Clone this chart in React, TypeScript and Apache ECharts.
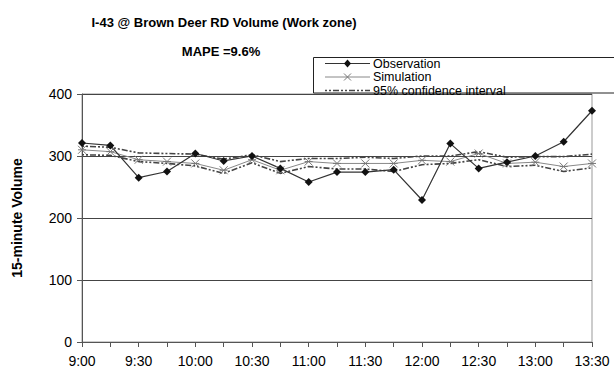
import React, { useEffect, useRef } from "react";
import * as echarts from "echarts";

// 15-minute intervals from 9:00 to 13:30
const times = [
  "9:00", "9:15", "9:30", "9:45", "10:00", "10:15", "10:30", "10:45", "11:00", "11:15",
  "11:30", "11:45", "12:00", "12:15", "12:30", "12:45", "13:00", "13:15", "13:30",
];
const observation = [321, 317, 265, 275, 304, 292, 300, 280, 258, 274, 274, 278, 229, 320, 280, 290, 300, 323, 373];
const simulation = [310, 307, 294, 291, 288, 277, 294, 277, 291, 288, 288, 288, 293, 291, 304, 288, 290, 283, 288];
const ciUpper = [316, 314, 305, 304, 303, 295, 302, 291, 296, 296, 298, 296, 300, 300, 307, 298, 299, 299, 303];
const ciLower = [302, 301, 291, 288, 284, 272, 289, 272, 283, 279, 279, 275, 286, 288, 294, 283, 285, 275, 281];

const FONT = "'Liberation Sans', Arial, sans-serif";
const STAR = "path://M0,0L10,10M10,0L0,10M0,5L10,5";
const CI_DASH = [2, 2, 2, 2, 6, 2];

export default function App() {
  const ref = useRef<HTMLDivElement>(null);

  useEffect(() => {
    if (!ref.current) return;
    const chart = echarts.init(ref.current, null, { renderer: "svg" });

    const lx = 325;
    const rows = [63.5, 77, 90.5];
    const legendText = (text: string, y: number) => ({
      type: "text",
      x: lx + 48,
      y,
      style: { text, fontSize: 12.5, lineHeight: 12, fontFamily: FONT, fill: "#000", verticalAlign: "middle" },
      z: 101,
    });

    chart.setOption({
      animation: false,
      backgroundColor: "#fff",
      textStyle: { fontFamily: FONT },
      title: [
        {
          text: "I-43 @ Brown Deer RD Volume (Work zone)",
          left: 219,
          top: 11,
          textAlign: "center",
          textStyle: { fontSize: 13, fontWeight: "bold", color: "#000", fontFamily: FONT },
        },
        {
          text: "MAPE =9.6%",
          left: 216,
          top: 40,
          textAlign: "center",
          textStyle: { fontSize: 13, fontWeight: "bold", color: "#000", fontFamily: FONT },
        },
      ],
      grid: { left: 82, right: 22, top: 94, bottom: 34, show: true, borderColor: "#999", borderWidth: 1, backgroundColor: "transparent" },
      xAxis: {
        type: "category",
        data: times,
        boundaryGap: false,
        axisLine: { lineStyle: { color: "#555" } },
        axisTick: { show: true, interval: 0, length: 5, lineStyle: { color: "#555" } },
        axisLabel: { interval: 1, color: "#000", fontSize: 14, margin: 12, fontFamily: FONT },
        splitLine: { show: false },
      },
      yAxis: {
        type: "value",
        min: 0,
        max: 400,
        interval: 100,
        name: "15-minute Volume",
        nameLocation: "middle",
        nameGap: 58,
        nameTextStyle: { fontSize: 14, fontWeight: "bold", color: "#000", fontFamily: FONT },
        axisLine: { show: true, lineStyle: { color: "#555" } },
        axisTick: { show: true, length: 5, lineStyle: { color: "#555" } },
        axisLabel: { color: "#000", fontSize: 14, margin: 10, fontFamily: FONT },
        splitLine: { show: true, lineStyle: { color: "#444", width: 1 } },
      },
      series: [
        {
          name: "95% confidence interval",
          type: "line",
          data: ciUpper,
          symbol: "none",
          lineStyle: { color: "#444", width: 1.6, type: CI_DASH },
        },
        {
          name: "95% confidence interval",
          type: "line",
          data: ciLower,
          symbol: "none",
          lineStyle: { color: "#444", width: 1.6, type: CI_DASH },
        },
        {
          name: "Simulation",
          type: "line",
          data: simulation,
          symbol: STAR,
          symbolSize: 8,
          itemStyle: { color: "none", borderColor: "#777", borderWidth: 1 },
          lineStyle: { color: "#888", width: 1 },
        },
        {
          name: "Observation",
          type: "line",
          data: observation,
          symbol: "diamond",
          symbolSize: 8,
          itemStyle: { color: "#111" },
          lineStyle: { color: "#333", width: 1.2 },
        },
      ],
      graphic: [
        {
          type: "rect",
          shape: { x: 313.5, y: 57.5, width: 320, height: 35.5 },
          style: { fill: "#fff", stroke: "#222", lineWidth: 1 },
          z: 100,
        },
        // Observation sample
        { type: "line", shape: { x1: lx, y1: rows[0], x2: lx + 45, y2: rows[0] }, style: { stroke: "#333", lineWidth: 1.2 }, z: 101 },
        {
          type: "polygon",
          shape: { points: [[lx + 22.5, rows[0] - 4], [lx + 26, rows[0]], [lx + 22.5, rows[0] + 4], [lx + 19, rows[0]]] },
          style: { fill: "#111" },
          z: 101,
        },
        legendText("Observation", rows[0]),
        // Simulation sample
        { type: "line", shape: { x1: lx, y1: rows[1], x2: lx + 45, y2: rows[1] }, style: { stroke: "#888", lineWidth: 1 }, z: 101 },
        { type: "line", shape: { x1: lx + 19, y1: rows[1] - 3.5, x2: lx + 26, y2: rows[1] + 3.5 }, style: { stroke: "#777", lineWidth: 1 }, z: 101 },
        { type: "line", shape: { x1: lx + 26, y1: rows[1] - 3.5, x2: lx + 19, y2: rows[1] + 3.5 }, style: { stroke: "#777", lineWidth: 1 }, z: 101 },
        legendText("Simulation", rows[1]),
        // Confidence interval sample
        { type: "line", shape: { x1: lx, y1: rows[2], x2: lx + 45, y2: rows[2] }, style: { stroke: "#444", lineWidth: 1.6, lineDash: CI_DASH }, z: 101 },
        legendText("95% confidence interval", rows[2]),
      ],
    });

    return () => chart.dispose();
  }, []);

  return <div ref={ref} style={{ position: "absolute", left: 0, top: 0, width: 614, height: 376 }} />;
}
